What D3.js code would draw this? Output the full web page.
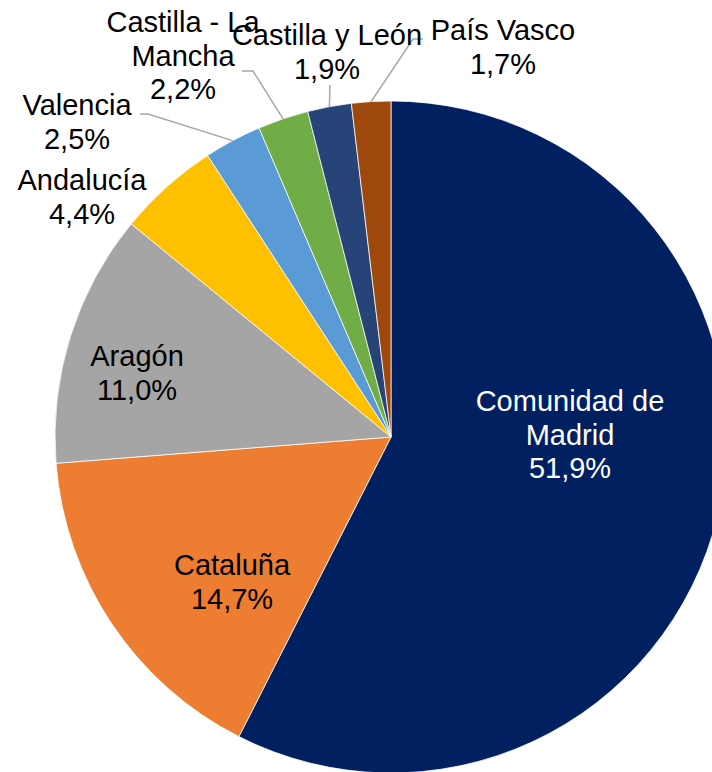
<!DOCTYPE html>
<html>
<head>
<meta charset="utf-8">
<script src="https://cdn.jsdelivr.net/npm/d3@7"></script>
<style>
  html, body { margin: 0; padding: 0; background: #fff; }
  svg { display: block; }
  .lbl { font-family: "Liberation Sans", Arial, sans-serif; font-size: 29px; }
  .leader { fill: none; stroke: #a6a6a6; stroke-width: 1.5; }
</style>
</head>
<body>
<div class="container"></div>
<script>
var WIDTH = 712, HEIGHT = 772;
var CX = 391, CY = 437, RADIUS = 336;

// data
var categories = ["Comunidad de Madrid", "Cataluña", "Aragón", "Andalucía",
                  "Valencia", "Castilla - La Mancha", "Castilla y León", "País Vasco"];
var values = [51.9, 14.7, 11.0, 4.4, 2.5, 2.2, 1.9, 1.7];
var colors = ["#002060", "#ed7d31", "#a5a5a5", "#ffc000",
              "#5b9bd5", "#70ad47", "#264478", "#9e480e"];

// label layout (wrapped lines, anchor relative to pie centre, optional leader)
var labelLines = [["Comunidad de", "Madrid"], ["Cataluña"], ["Aragón"], ["Andalucía"],
                  ["Valencia"], ["Castilla - La", "Mancha"], ["Castilla y León"], ["País Vasco"]];
var labelPos = [[179, -26], [-159, 138], [-254, -71], [-309, -247],
                [-314, -322], [-208, -405], [-64, -392], [112, -397]];
var leaders = [null, null, null, null,
               {x0: -251, x1: -243, y: -323},
               {x0: -149, x1: -138, y: -366},
               {x0: -61, x1: -61, y: -352},
               {x0: 32, x1: 22, y: -398}];
var LINE_H = 33.5;

var fmt = function(v){ return v.toFixed(1).replace(".", ",") + "%"; };

var rows = categories.map(function(c, i){ return {name: c, value: values[i], i: i}; });

var svg = d3.select('.container').append('svg')
            .attr('width', WIDTH)
            .attr('height', HEIGHT);

var g = svg.append('g').attr('transform', 'translate(' + CX + ',' + CY + ')');

var pie = d3.pie().sort(null).value(function(d){ return d.value; });
var arcs = pie(rows);

var arc = d3.arc().innerRadius(0).outerRadius(RADIUS);
var edge = d3.arc().innerRadius(RADIUS).outerRadius(RADIUS);

g.selectAll('path.slice').data(arcs)
    .enter().append('path')
        .classed('slice', true)
        .attr('d', arc)
        .attr('fill', function(d){ return colors[d.data.i]; })
        .attr('stroke', '#fff')
        .attr('stroke-width', 0.75);

// leader lines from slice edge to label
g.selectAll('path.leader').data(arcs.filter(function(d){ return leaders[d.data.i]; }))
    .enter().append('path')
        .classed('leader', true)
        .attr('d', function(d){
            var L = leaders[d.data.i];
            var p = edge.centroid(d);
            return d3.line()([[L.x0, L.y], [L.x1, L.y], p]);
        });

var labels = g.selectAll('text.lbl').data(arcs)
    .enter().append('text')
        .classed('lbl', true)
        .attr('text-anchor', 'middle')
        .attr('fill', function(d){ return d.data.i === 0 ? '#fff' : '#000'; });

labels.each(function(d){
    var t = d3.select(this);
    var pos = labelPos[d.data.i];
    var lines = labelLines[d.data.i].concat([fmt(d.data.value)]);
    lines.forEach(function(s, k){
        t.append('tspan')
            .attr('x', pos[0])
            .attr('y', pos[1] + k * LINE_H)
            .text(s);
    });
});
</script>
</body>
</html>
